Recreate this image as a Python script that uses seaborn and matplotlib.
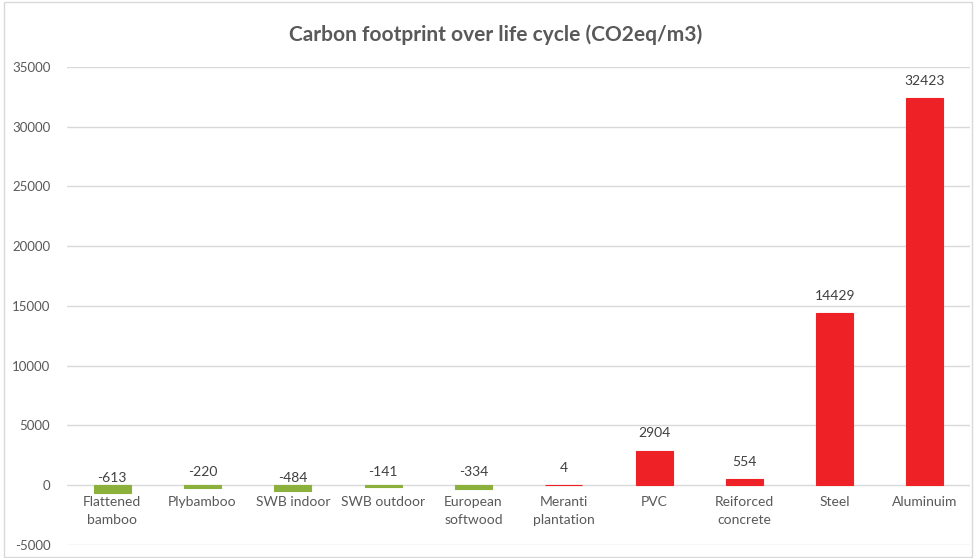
import matplotlib.pyplot as plt
import seaborn as sns
import pandas as pd
from matplotlib.patches import Rectangle

# Data
categories = ['Flattened\nbamboo', 'Plybamboo', 'SWB indoor', 'SWB outdoor', 'European\nsoftwood',
              'Meranti\nplantation', 'PVC', 'Reiforced\nconcrete', 'Steel', 'Aluminuim']
values = [-613, -220, -484, -141, -334, 4, 2904, 554, 14429, 32423]
yticks = [-5000, 0, 5000, 10000, 15000, 20000, 25000, 30000, 35000]

green = '#8BB13C'
red = '#EE2226'
text_gray = '#595959'

df = pd.DataFrame({'category': categories, 'value': values})
colors = [green if v < 0 else red for v in values]

sns.set_style('white')
plt.rcParams['font.family'] = ['Lato', 'DejaVu Sans']

fig = plt.figure(figsize=(9.76, 5.58), dpi=100)
ax = fig.add_axes([0.0686, 0.0233, 0.9254, 0.8567])

sns.barplot(data=df, x='category', y='value', hue='category', palette=colors,
            width=0.41, legend=False, ax=ax, saturation=1)
# thin outline so tiny bars (e.g. 4) still show as a line
for p in ax.patches:
    p.set_edgecolor(p.get_facecolor())
    p.set_linewidth(0.8)

ax.set_ylim(-5000, 35000)
ax.set_xlim(-0.5, len(categories) - 0.5)
ax.set_yticks(yticks)
ax.set_yticklabels([str(t) for t in yticks], color=text_gray, fontsize=9.5)
ax.yaxis.grid(True, color='#D9D9D9', linewidth=1)
ax.set_axisbelow(True)
for s in ax.spines.values():
    s.set_visible(False)
ax.tick_params(axis='y', length=0, pad=12)
ax.set_xlabel('')
ax.set_ylabel('')

# category labels just below the zero line
ax.set_xticks(range(len(categories)))
ax.set_xticklabels([])
ax.tick_params(axis='x', length=0)
for i, c in enumerate(categories):
    ax.annotate(c, xy=(i, 0), xytext=(0, -8), textcoords='offset points',
                ha='center', va='top', fontsize=10, color=text_gray, linespacing=1.55)

# value labels
for i, v in enumerate(values):
    if v < 0:
        off = 1 if v < -400 else 5
        ax.annotate(str(v), xy=(i, 0), xytext=(0, off), textcoords='offset points',
                    ha='center', va='bottom', fontsize=10, color='#404040')
    else:
        ax.annotate(str(v), xy=(i, v), xytext=(0, 8), textcoords='offset points',
                    ha='center', va='bottom', fontsize=10, color='#404040')

fig.text(0.508, 0.938, 'Carbon footprint over life cycle (CO2eq/m3)', ha='center', va='center',
         fontsize=15, fontweight='bold', color=text_gray)

# chart border
fig.patches.append(Rectangle((0.004, 0.002), 0.992, 0.994, transform=fig.transFigure,
                             fill=False, edgecolor='#D9D9D9', linewidth=1))

fig.savefig('out.png', dpi=100)
